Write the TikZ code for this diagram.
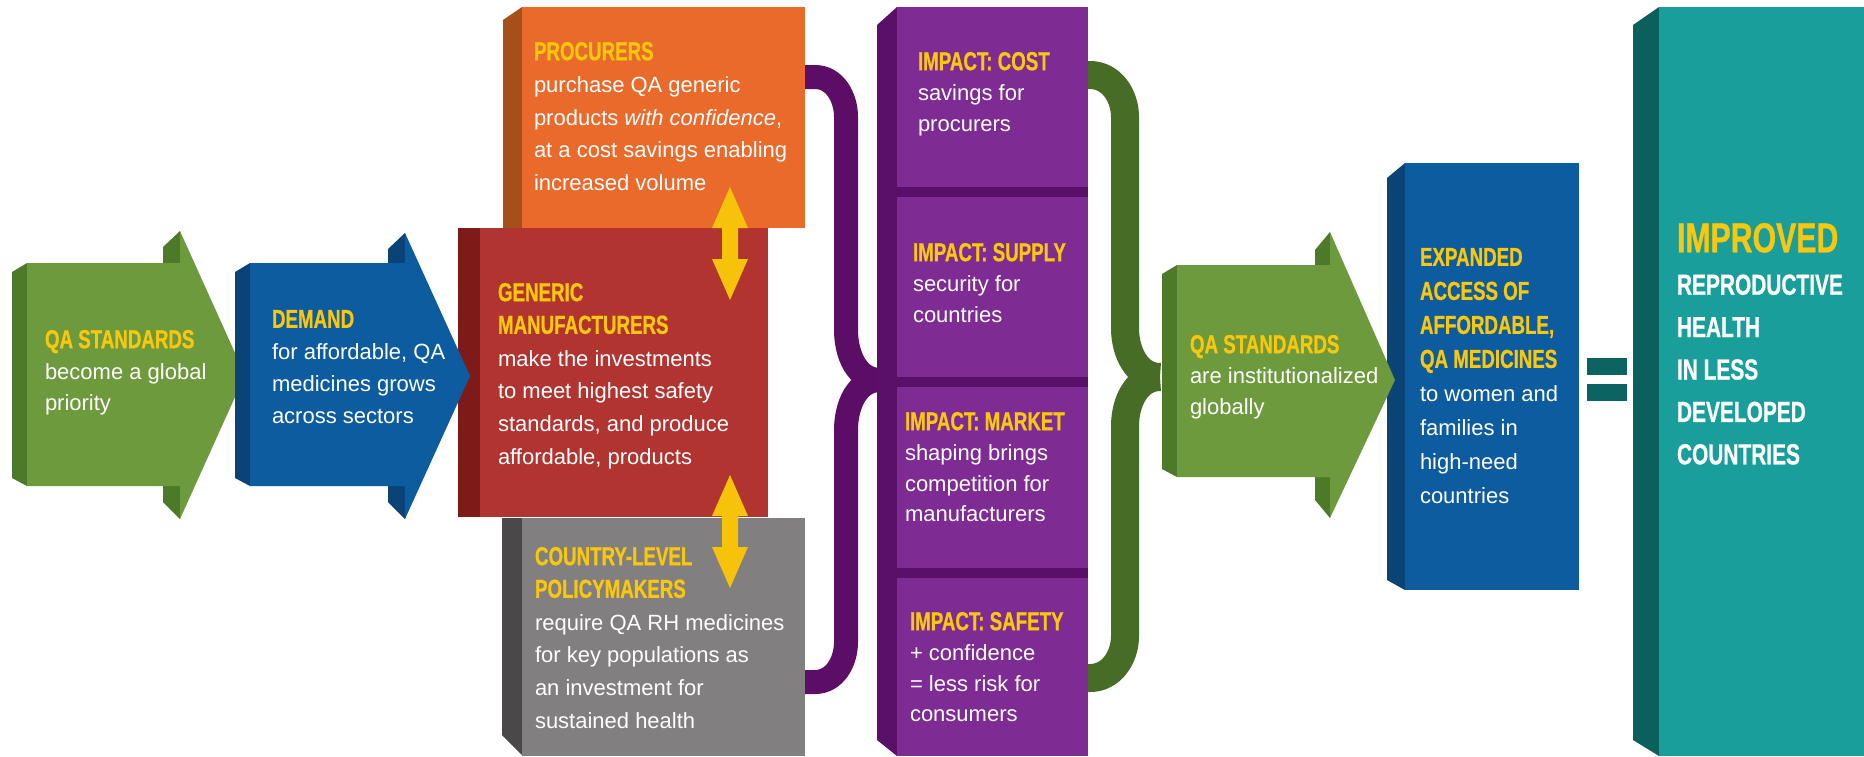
\documentclass[tikz,border=0pt]{standalone}
\usepackage{fontspec}
\setmainfont{Liberation Sans}
\newfontfamily\hdfont[FakeStretch=0.72,FakeBold=0.7]{Liberation Sans}
\definecolor{hdy}{HTML}{F9C80E}
\definecolor{arry}{HTML}{F7C30A}
\definecolor{grL}{HTML}{6E9A3E}
\definecolor{grD}{HTML}{4C7A28}
\definecolor{grB}{HTML}{466C25}
\definecolor{blL}{HTML}{0E5CA0}
\definecolor{blD}{HTML}{0A4476}
\definecolor{rdL}{HTML}{B23431}
\definecolor{rdD}{HTML}{7E1B19}
\definecolor{orL}{HTML}{E96A2B}
\definecolor{orD}{HTML}{A5501B}
\definecolor{gyL}{HTML}{827F80}
\definecolor{gyD}{HTML}{4B484A}
\definecolor{puL}{HTML}{7E2B94}
\definecolor{puD}{HTML}{5A1068}
\definecolor{puB}{HTML}{5C0E66}
\definecolor{tlL}{HTML}{1A9E9B}
\definecolor{tlD}{HTML}{0B5F5C}
\definecolor{tlE}{HTML}{0C6462}
\newcommand\hdg{\hdfont\bfseries\fontsize{13}{16}\selectfont\color{hdy}}
\tikzset{
  txt/.style={inner sep=0pt, outer sep=0pt, anchor=north west, align=left, text=white, font=\fontsize{11}{#1}\selectfont},
  txt/.default=16.3,
  pbrace/.style={draw=puB, line width=12pt},
  gbrace/.style={draw=grB, line width=14pt},
}
\begin{document}
\begin{tikzpicture}[x=0.5pt,y=-0.5pt]
\useasboundingbox (0,0) rectangle (1864,756);
\fill[white] (0,0) rectangle (1864,756);

% ---------- braces ----------
\coordinate (pb1) at (795,77);
\coordinate (pb2) at (795,682);
\coordinate (pcusp) at (880,380);
\draw[pbrace] (pb1) -- (815,77) to[out=0,in=90] (846,117) -- (846,330) to[out=-90,in=180] (pcusp);
\draw[pbrace] (pb2) -- (815,682) to[out=0,in=-90] (846,642) -- (846,430) to[out=90,in=180] (pcusp);

\coordinate (gb1) at (1080,75);
\coordinate (gb2) at (1080,678);
\coordinate (gcusp) at (1160,377);
\draw[gbrace] (gb1) -- (1090,75) to[out=0,in=90] (1125,117) -- (1125,328) to[out=-90,in=180] (gcusp);
\draw[gbrace] (gb2) -- (1090,678) to[out=0,in=-90] (1125,636) -- (1125,426) to[out=90,in=180] (gcusp);

% ---------- orange box ----------
\fill[orD] (503,20) -- (522,7) -- (522,228) -- (503,228) -- cycle;
\fill[orL] (522,7) rectangle (805,228);
% ---------- grey box ----------
\fill[gyD] (502,518) -- (522,518) -- (522,755) -- (502,735) -- cycle;
\fill[gyL] (522,518) rectangle (805,756);
% ---------- red box ----------
\fill[rdD] (458,228) rectangle (480,517);
\fill[rdL] (480,228) rectangle (768,517);

% ---------- green arrow 1 ----------
\fill[grD] (12,272) -- (27,263) -- (27,486) -- (12,478) -- cycle;
\fill[grD] (163,263) -- (163,247) -- (180,231) -- (180,263) -- cycle;
\fill[grD] (163,486) -- (163,502) -- (180,519) -- (180,486) -- cycle;
\fill[grL] (27,263) -- (180,263) -- (180,231) -- (245,375) -- (180,519) -- (180,486) -- (27,486) -- cycle;

% ---------- blue arrow 2 ----------
\fill[blD] (235,272) -- (250,263) -- (250,486) -- (235,478) -- cycle;
\fill[blD] (388,263) -- (388,249) -- (405,233) -- (405,263) -- cycle;
\fill[blD] (388,486) -- (388,502) -- (405,519) -- (405,486) -- cycle;
\fill[blL] (250,263) -- (405,263) -- (405,233) -- (470,376) -- (405,519) -- (405,486) -- (250,486) -- cycle;

% ---------- impact column ----------
\fill[puD] (877,25) -- (897,7) -- (897,756) -- (877,740) -- cycle;
\fill[puL] (897,7) rectangle (1088,756);
\fill[puD] (897,187) rectangle (1088,197);
\fill[puD] (897,377) rectangle (1088,387);
\fill[puD] (897,568) rectangle (1088,578);

% ---------- blue box 2 ----------
\fill[blD] (1387,178) -- (1405,163) -- (1405,590) -- (1387,580) -- cycle;
\fill[blL] (1405,163) rectangle (1579,590);

% ---------- green arrow 3 ----------
\fill[grD] (1162,274) -- (1177,265) -- (1177,477) -- (1162,469) -- cycle;
\fill[grD] (1315,265) -- (1315,250) -- (1330,232) -- (1330,265) -- cycle;
\fill[grD] (1315,477) -- (1315,500) -- (1330,518) -- (1330,477) -- cycle;
\fill[grL] (1177,265) -- (1330,265) -- (1330,232) -- (1395,380) -- (1330,518) -- (1330,477) -- (1177,477) -- cycle;

% ---------- equals ----------
\fill[tlE] (1587,358) rectangle (1627,375);
\fill[tlE] (1587,384) rectangle (1627,401);

% ---------- teal box ----------
\fill[tlD] (1633,25) -- (1659,7) -- (1659,756) -- (1633,740) -- cycle;
\fill[tlL] (1659,7) rectangle (1864,756);

% ---------- yellow double arrows ----------
\coordinate (ya1) at (730,187);
\coordinate (yb1) at (730,300);
\coordinate (ya2) at (730,475);
\coordinate (yb2) at (730,588);
\fill[arry] (ya1) -- ++(18,41) -- ++(-10,0) -- (738,259) -- ++(10,0) -- (yb1) -- ++(-18,-41) -- ++(10,0) -- (722,228) -- ++(-10,0) -- cycle;
\fill[arry] (ya2) -- ++(18,41) -- ++(-10,0) -- (738,547) -- ++(10,0) -- (yb2) -- ++(-18,-41) -- ++(10,0) -- (722,516) -- ++(-10,0) -- cycle;

% ---------- texts ----------
\node[txt=15.5] (qa1) at (45,330) {{\hdg QA STANDARDS}\\become a global\\priority};
\node[txt=16] (dem) at (272,310) {{\hdg DEMAND}\\for affordable, QA\\medicines grows\\across sectors};
\node[txt] (proc) at (534,42) {{\hdg PROCURERS}\\purchase QA generic\\products \textit{with confidence},\\at a cost savings enabling\\increased volume};
\node[txt] (gen) at (498,283) {{\hdg GENERIC}\\{\hdg MANUFACTURERS}\\make the investments\\to meet highest safety\\standards, and produce\\affordable, products};
\node[txt] (pol) at (535,547) {{\hdg COUNTRY-LEVEL}\\{\hdg POLICYMAKERS}\\require QA RH medicines\\for key populations as\\an investment for\\sustained health};
\node[txt=15.3] (ic) at (918,52) {{\hdg IMPACT: COST}\\savings for\\procurers};
\node[txt=15.3] (is) at (913,243) {{\hdg IMPACT: SUPPLY}\\security for\\countries};
\node[txt=15.3] (im) at (905,412) {{\hdg IMPACT: MARKET}\\shaping brings\\competition for\\manufacturers};
\node[txt=15.3] (isf) at (910,612) {{\hdg IMPACT: SAFETY}\\+ confidence\\= less risk for\\consumers};
\node[txt=15.3] (qa2) at (1190,335) {{\hdg QA STANDARDS}\\are institutionalized\\globally};
\node[txt=17] (exp) at (1420,248) {{\hdg EXPANDED}\\{\hdg ACCESS OF}\\{\hdg AFFORDABLE,}\\{\hdg QA MEDICINES}\\to women and\\families in\\high-need\\countries};
\node[inner sep=0pt, outer sep=0pt, anchor=north west, align=left, text=white, font=\hdfont\bfseries\fontsize{14.5}{21.2}\selectfont] (imp) at (1677,223) {{\fontsize{21}{21.2}\selectfont\color{hdy}IMPROVED}\\REPRODUCTIVE\\HEALTH\\IN LESS\\DEVELOPED\\COUNTRIES};
\end{tikzpicture}
\end{document}
